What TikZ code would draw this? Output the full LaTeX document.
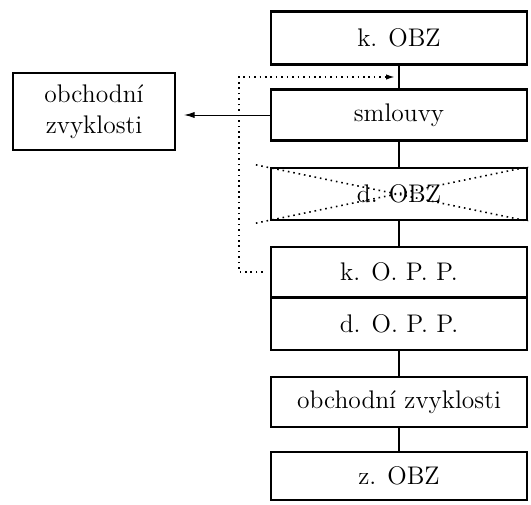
\documentclass[tikz,border=0pt]{standalone}
\usetikzlibrary{arrows.meta,calc}
\begin{document}
\begin{tikzpicture}[x=0.02cm,y=-0.02cm,
  box/.style={draw,line width=1.3pt,minimum width=5.12cm,minimum height=1.02cm,inner sep=0pt,font=\fontsize{14.5}{17.5}\selectfont},
  link/.style={line width=1.3pt},
  dotline/.style={line width=0.9pt,dash pattern=on 0.9pt off 2.2pt}]
\useasboundingbox (0,0) rectangle (531,504);
\node[box,minimum height=1.06cm] (kOBZ) at (399,38) {k. OBZ};
\node[box] (sml) at (399,115) {smlouvy};
\node[box,minimum height=1.04cm] (dOBZ) at (399,194) {d. OBZ};
\node[box,minimum height=1.0cm] (kOPP) at (399,272) {k. O. P. P.};
\node[box,minimum height=1.04cm] (dOPP) at (399,324) {d. O. P. P.};
\node[box,minimum height=1.0cm] (oz) at (399,402) {obchodní zvyklosti};
\node[box,minimum height=0.96cm] (zOBZ) at (399,476) {z. OBZ};
\node[box,minimum width=3.24cm,minimum height=1.54cm,align=center] (lz) at (94,111.5) {obchodní\\zvyklosti};
\draw[link] (kOBZ.south) -- (sml.north);
\draw[link] (sml.south) -- (dOBZ.north);
\draw[link] (dOBZ.south) -- (kOPP.north);
\draw[link] (dOPP.south) -- (oz.north);
\draw[link] (oz.south) -- (zOBZ.north);
\draw[-{Latex[length=6pt,width=3.5pt]},line width=0.5pt,shorten >=8*0.02cm] (sml.west) -- (sml.west -| lz.east);
\coordinate (m) at ($(kOBZ.south)!0.5!(sml.north)$);
\coordinate (mm) at ($(m)+(-4,0)$);
\coordinate (kl) at ($(kOPP.west)+(-7,0)$);
\draw[dotline,-{Latex[length=5pt,width=3pt]}] (kl) -- ++(-24,0) |- (mm);
\coordinate (c1) at ($(dOBZ.north west)+(-14,-2)$);
\coordinate (c2) at ($(dOBZ.south west)+(-14,2)$);
\draw[dotline] (c1) -- (dOBZ.south east);
\draw[dotline] (c2) -- (dOBZ.north east);
\end{tikzpicture}
\end{document}
